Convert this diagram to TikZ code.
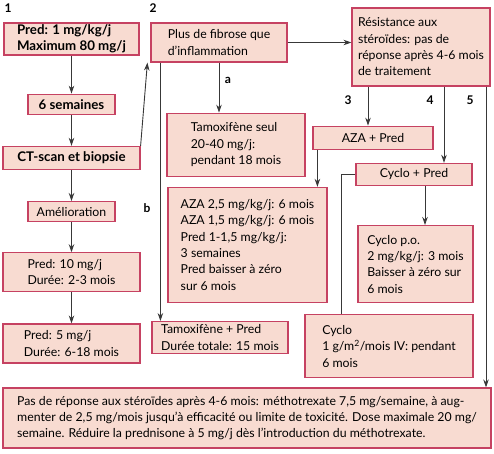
\documentclass[tikz,border=0pt]{standalone}
\usepackage{fontspec}
\setmainfont{Lato}
\usepackage{tikz}
\usetikzlibrary{positioning,arrows.meta}

\definecolor{boxfill}{RGB}{248,219,209}
\definecolor{boxline}{RGB}{198,66,98}

\begin{document}
\begin{tikzpicture}[
		x=1pt,y=-1pt,
		>={Stealth[length=8pt,width=5.5pt]},
		treat/.style={
			draw=boxline,
			fill=boxfill,
			line width=1.2pt,
			inner sep=0pt,
			align=left,
			font=\fontsize{12.3}{16.3}\selectfont
		},
		strong/.style={
			font=\fontsize{13.3}{16.5}\selectfont\bfseries
		},
		num/.style={
			inner sep=0pt,
			font=\fontsize{12}{14}\selectfont\bfseries
		},
		link/.style={->,draw=black!78,line width=0.9pt}
		]
		
		\useasboundingbox (0,0) rectangle (494,453);
		
		%--------------------------------------------------
		% Nodes
		%--------------------------------------------------
		
		\node (pred1) [treat,strong,minimum width=135pt,minimum height=32pt] at (71.5,39)
		{Pred: 1 mg/kg/j\\Maximum 80 mg/j};
		
		\node (sem6) [treat,strong,minimum width=87pt,minimum height=20pt,below=38pt of pred1]
		{6 semaines};
		
		\node (ctscan) [treat,strong,minimum width=137pt,minimum height=23pt,below=31pt of sem6]
		{CT-scan et biopsie};
		
		\node (amelio) [treat,minimum width=87pt,minimum height=20pt,below=31pt of ctscan]
		{Amélioration};
		
		\node (pred10) [treat,minimum width=137pt,minimum height=39pt,below=30pt of amelio]
		{Pred: 10 mg/j\\Durée: 2-3 mois};
		
		\node (pred5) [treat,minimum width=137pt,minimum height=39pt,below=31pt of pred10]
		{Pred: 5 mg/j\\Durée: 6-18 mois};
		
		\node (fibrose) [treat,minimum width=136pt,minimum height=39pt] at (219,42.5)
		{Plus de fibrose que\\d’inflammation};
		
		\node (tamseul) [treat,minimum width=138pt,minimum height=63pt,below=50pt of fibrose,xshift=17pt]
		{Tamoxifène seul\\20-40 mg/j:\\pendant 18 mois};
		
		\node (azadose) [treat,minimum width=159pt,minimum height=115pt,below=10pt of tamseul,xshift=11.5pt]
		{AZA 2,5 mg/kg/j: 6 mois\\AZA 1,5 mg/kg/j: 6 mois\\Pred 1-1,5 mg/kg/j:\\3 semaines\\Pred baisser à zéro\\sur 6 mois};
		
		\node (tampred) [treat,minimum width=136pt,minimum height=32pt,below=18pt of azadose,xshift=-27.5pt]
		{Tamoxifène + Pred\\Durée totale: 15 mois};
		
		\node (resist) [treat,minimum width=138pt,minimum height=78pt] at (421,47)
		{Résistance aux\\stéroïdes: pas de\\réponse après 4-6 mois\\de traitement};
		
		\node (azapred) [treat,minimum width=120pt,minimum height=23pt,below=39pt of resist,xshift=-48pt]
		{AZA + Pred};
		
		\node (cyclopred) [treat,minimum width=116pt,minimum height=22pt,below=13pt of azapred,xshift=41pt]
		{Cyclo + Pred};
		
		\node (cyclopo) [treat,minimum width=115pt,minimum height=77pt,below=39pt of cyclopred,xshift=1.5pt]
		{Cyclo p.o.\\2 mg/kg/j: 3 mois\\Baisser à zéro sur\\6 mois};
		
		\node (cycloiv) [treat,minimum width=168pt,minimum height=63pt,below=11pt of cyclopo,xshift=-26.5pt]
		{Cyclo\\1 g/m\textsuperscript{2}/mois IV: pendant\\6 mois};
		
		\node (methotrex) [treat,minimum width=488pt,minimum height=60pt] at (247,418)
		{Pas de réponse aux stéroïdes après 4-6 mois: méthotrexate 7,5 mg/semaine, à aug-\\menter de 2,5 mg/mois jusqu’à efficacité ou limite de toxicité. Dose maximale 20 mg/\\semaine. Réduire la prednisone à 5 mg/j dès l’introduction du méthotrexate.};
		
		%--------------------------------------------------
		% Labels
		%--------------------------------------------------
		
		\node (lbl1) [num] at (8,8) {1};
		\node (lbl2) [num] at (153,8) {2};
		\node (lbla) [num] at (228,80) {a};
		\node (lblb) [num] at (147,208) {b};
		\node (lbl3) [num] at (348,100) {3};
		\node (lbl4) [num] at (430,100) {4};
		\node (lbl5) [num] at (470,100) {5};
		
		%--------------------------------------------------
		% Connections
		%--------------------------------------------------
		
		\draw[link] (pred1) -- (sem6);
		
		\draw[link] (sem6) -- (ctscan);
		
		\draw[link] (ctscan) -- (amelio);
		
		\draw[link] (amelio) -- (pred10);
		
		\draw[link] (pred10) -- (pred5);
		
		\draw[link] (ctscan.north east) -- ([xshift=-3pt]fibrose.south west);
		
		\draw[link] ([xshift=10pt]fibrose.south west) -- ([xshift=10pt]fibrose.south west |- tampred.north);
		
		\draw[link] (fibrose.south) -- (fibrose.south |- tamseul.north);
		
		\draw[link] (fibrose.east) -- (fibrose.east -| resist.west);
		
		\draw[link] ([xshift=-53pt]resist.south) -- ([xshift=-53pt]resist.south |- azapred.north);
		
		\draw[link] ([xshift=23pt]resist.south) -- ([xshift=23pt]resist.south |- cyclopred.north);
		
		\draw[link] ([xshift=65pt]resist.south) -- ([xshift=65pt]resist.south |- methotrex.north);
		
		\draw[link] ([xshift=5pt]azapred.south west) -- ([xshift=5pt]azapred.south west |- azadose.north);
		
		\draw[link] ([xshift=11pt]cyclopred.south) -- ([xshift=11pt]cyclopred.south |- cyclopo.north);
		
		\draw[link,-] (cyclopred.west) -| ([xshift=37pt]cycloiv.north west);
		
	\end{tikzpicture}
\end{document}
